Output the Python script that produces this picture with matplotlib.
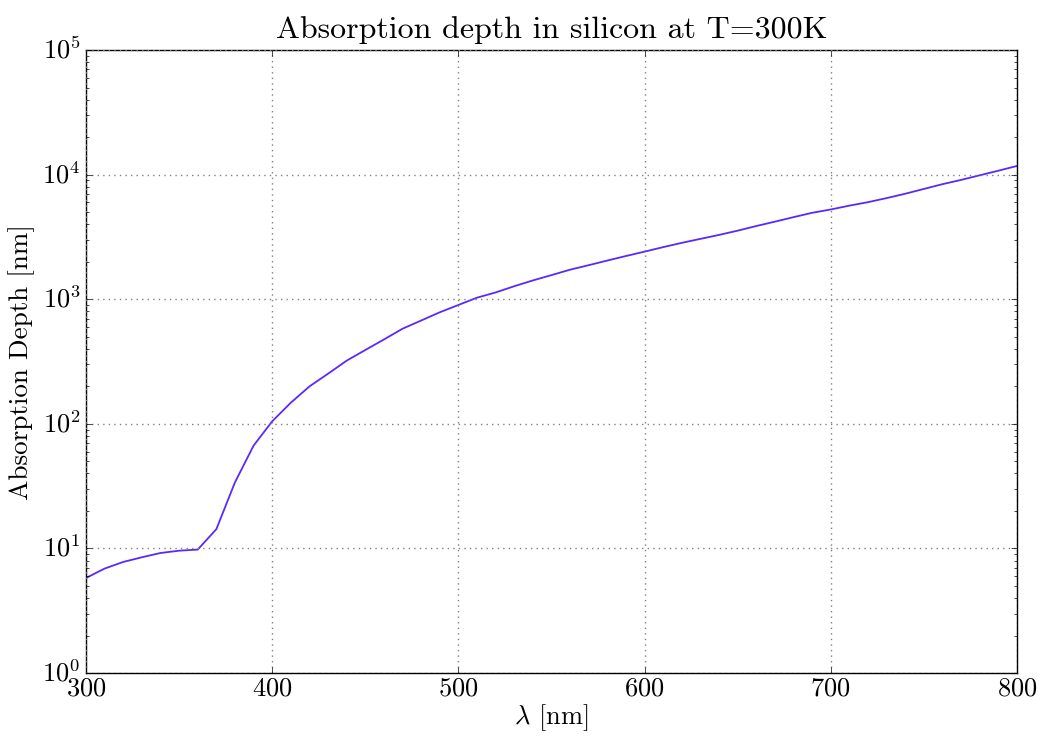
import matplotlib
matplotlib.use("Agg")
import matplotlib.pyplot as plt
import numpy as np

plt.style.use("classic")
plt.rcParams["font.family"] = "serif"
plt.rcParams["font.serif"] = ["cmr10"]
plt.rcParams["mathtext.fontset"] = "cm"
plt.rcParams["axes.unicode_minus"] = False
plt.rcParams["axes.formatter.use_mathtext"] = True

# wavelength [nm] and absorption depth [nm]
wavelength = [300, 310, 320, 330, 340, 350, 360, 370, 380, 390,
              400, 410, 420, 430, 440, 450, 460, 470, 480, 490,
              500, 510, 520, 530, 540, 550, 560, 570, 580, 590,
              600, 610, 620, 630, 640, 650, 660, 670, 680, 690,
              700, 710, 720, 730, 740, 750, 760, 770, 780, 790, 800]
depth = [5.8, 6.9, 7.8, 8.5, 9.2, 9.6, 9.8, 14.3, 34, 67,
         105, 148, 200, 253, 322, 392, 476, 581, 676, 787,
         901, 1031, 1136, 1274, 1418, 1565, 1730, 1880, 2049, 2227,
         2415, 2625, 2841, 3058, 3289, 3559, 3876, 4202, 4566, 4950,
         5263, 5650, 6024, 6494, 7042, 7692, 8403, 9091, 9901, 10776, 11765]

fig = plt.figure(figsize=(10.43, 7.38), dpi=100, facecolor="white")
ax = fig.add_axes([0.0825, 0.088, 0.8925, 0.844])

ax.plot(wavelength, depth, color="#5a28ff", lw=1.3)
ax.set_yscale("log")
ax.set_xlim(300, 800)
ax.set_ylim(1, 1e5)
ax.grid(True, color="0.5", linestyle=":", linewidth=1)

ax.set_title("Absorption depth in silicon at T=300K", fontsize=23, pad=9)
ax.set_xlabel(r"$\lambda$ [nm]", fontsize=19, labelpad=1)
ax.set_ylabel("Absorption Depth [nm]", fontsize=19.5)
ax.tick_params(labelsize=19)
ax.tick_params(axis="x", pad=3)

fig.savefig("out.png", dpi=100, facecolor="white")
